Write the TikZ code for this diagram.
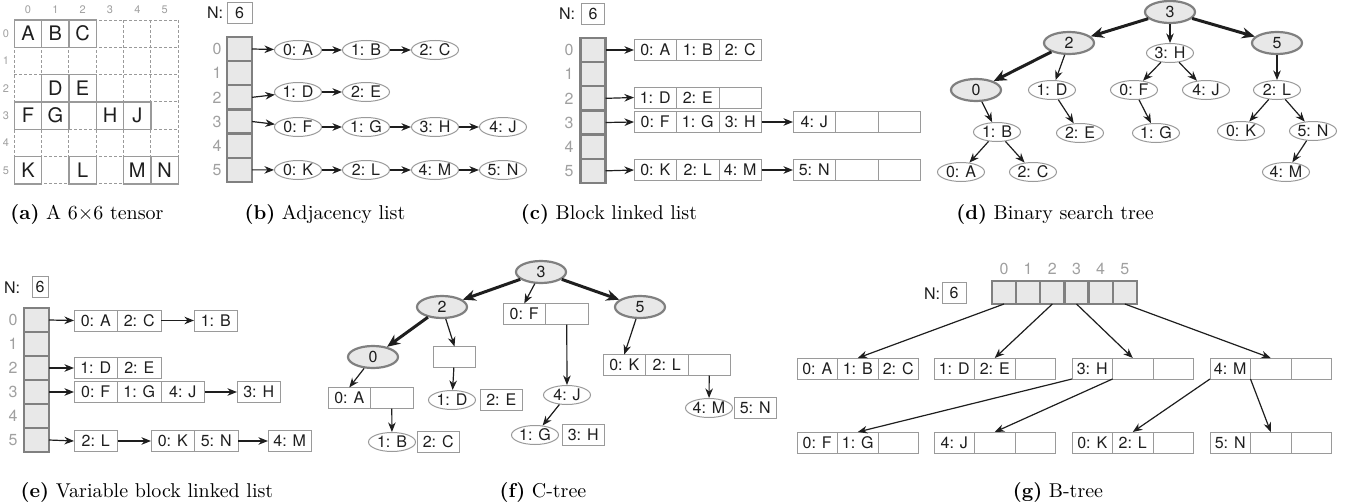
\documentclass[tikz,border=0pt]{standalone}
\usepackage{fontspec}
\newfontfamily\labelfont{TeX Gyre Heros}
\usetikzlibrary{positioning,shapes.geometric,arrows.meta}
\definecolor{boxgray}{HTML}{9A9A9A}
\definecolor{slotfill}{HTML}{E8E8E8}
\definecolor{slotedge}{HTML}{808080}
\definecolor{idxgray}{HTML}{A0A0A0}
\definecolor{ink}{HTML}{1E1E1E}
\tikzset{
  lbl/.style={font=\labelfont\fontsize{8}{9.5}\selectfont, text=ink},
  idx/.style={font=\labelfont\fontsize{8}{9.5}\selectfont, text=idxgray},
  tidx/.style={font=\labelfont\fontsize{5.5}{7}\selectfont, text=idxgray},
  tcell/.style={draw=boxgray, line width=0.6pt, minimum size=13.67pt, inner sep=0pt,
    font=\labelfont\fontsize{10}{12}\selectfont, text=ink},
  cellbox/.style={lbl, draw=boxgray, line width=0.5pt, rectangle, minimum width=#1,
    minimum height=10.5pt, inner sep=0pt, outer sep=0pt},
  cellbox/.default=21.25pt,
  kv/.style={lbl, ellipse, draw=boxgray, line width=0.5pt, minimum width=23.5pt,
    minimum height=9.5pt, inner sep=0pt},
  inode/.style={lbl, ellipse, draw=slotedge, fill=slotfill, line width=1.1pt,
    minimum width=25pt, minimum height=11pt, inner sep=0pt},
  slot/.style={draw=slotedge, fill=slotfill, line width=1.1pt, minimum width=12.5pt,
    minimum height=12.08pt, inner sep=0pt, outer sep=0pt},
  ptr/.style={ink, line width=0.6pt, -{Stealth[length=4.8pt,width=3.8pt]}},
  bigptr/.style={ink, line width=1.5pt, -{Stealth[length=6.5pt,width=5.5pt]}},
  capt/.style={font=\fontsize{10}{12}\selectfont, anchor=base, inner sep=0pt},
}

\begin{document}
\begin{tikzpicture}[x=0.5pt,y=-0.5pt]
\useasboundingbox (0,0) rectangle (1356,503);

% (a) tensor
\foreach \k in {0,...,6} {
  \draw[boxgray, line width=0.5pt, dash pattern=on 1.5pt off 1pt] ({14.3+27.33*\k},20) -- ++(0,164);
  \draw[boxgray, line width=0.5pt, dash pattern=on 1.5pt off 1pt] (14.3,{20+27.33*\k}) -- ++(164,0);
}
\foreach \k in {0,...,5} {
  \node[tidx] (tc\k) at ({28+27.33*\k},9.5) {\k};
  \node[tidx] (tr\k) at (6,{33.7+27.33*\k}) {\k};
}
\foreach \r/\c/\v in {0/0/A,0/1/B,0/2/C,2/1/D,2/2/E,3/0/F,3/1/G,3/3/H,3/4/J,5/0/K,5/2/L,5/4/M,5/5/N}
  \node[tcell] (t\r\c) at ({28+27.33*\c},{33.7+27.33*\r}) {\v};
\node[capt] (capa) at (87,219) {\textbf{(a)} A 6$\times$6 tensor};

% (b) adjacency list
\node[lbl] (bnl) at (215,13) {N:};
\node[cellbox=12.5pt] (bnv) at (239.5,13) {6};
\foreach \i in {0,...,5} {
  \node[slot] (bs\i) at (239.5,{49+24.17*\i}) {};
  \node[idx] (bi\i) at (217,{49+24.17*\i}) {\i};
}
\node[kv] (b0a) at (298,50) {0: A};
\node[kv] (b0b) at (366,50) {1: B};
\node[kv] (b0c) at (435,50) {2: C};
\node[kv] (b2a) at (298,92) {1: D};
\node[kv] (b2b) at (366,92) {2: E};
\node[kv] (b3a) at (298,127) {0: F};
\node[kv] (b3b) at (366,127) {1: G};
\node[kv] (b3c) at (435,127) {3: H};
\node[kv] (b3d) at (503,127) {4: J};
\node[kv] (b5a) at (298,170) {0: K};
\node[kv] (b5b) at (366,170) {2: L};
\node[kv] (b5c) at (435,170) {4: M};
\node[kv] (b5d) at (503,170) {5: N};
\draw[ptr] (bs0.east) -- (b0a);
\draw[ptr] (bs2.east) -- (b2a);
\draw[ptr] (bs3.east) -- (b3a);
\draw[ptr] (bs5.east) -- (b5a);
\draw[ptr] (b0a) -- (b0b);
\draw[ptr] (b0b) -- (b0c);
\draw[ptr] (b2a) -- (b2b);
\draw[ptr] (b3a) -- (b3b);
\draw[ptr] (b3b) -- (b3c);
\draw[ptr] (b3c) -- (b3d);
\draw[ptr] (b5a) -- (b5b);
\draw[ptr] (b5b) -- (b5c);
\draw[ptr] (b5c) -- (b5d);
\node[capt] (capb) at (325,219) {\textbf{(b)} Adjacency list};

% (c) block linked list
\node[lbl] (cnl) at (567,14) {N:};
\node[cellbox=11.5pt] (cnv) at (593,14) {6};
\foreach \i in {0,...,5} {
  \node[slot] (cs\i) at (593,{50+24.17*\i}) {};
  \node[idx] (ci\i) at (569,{50+24.17*\i}) {\i};
}
\node[cellbox, anchor=west] (c0a) at (634,50) {0: A};
\node[cellbox, right=0pt of c0a] (c0b) {1: B};
\node[cellbox, right=0pt of c0b] (c0c) {2: C};
\node[cellbox, anchor=west] (c2a) at (634,97.5) {1: D};
\node[cellbox, right=0pt of c2a] (c2b) {2: E};
\node[cellbox, right=0pt of c2b] (c2c) {};
\node[cellbox, anchor=west] (c3a) at (634,122) {0: F};
\node[cellbox, right=0pt of c3a] (c3b) {1: G};
\node[cellbox, right=0pt of c3b] (c3c) {3: H};
\node[cellbox, anchor=west] (c3d) at (793,122) {4: J};
\node[cellbox, right=0pt of c3d] (c3e) {};
\node[cellbox, right=0pt of c3e] (c3f) {};
\node[cellbox, anchor=west] (c5a) at (634,170) {0: K};
\node[cellbox, right=0pt of c5a] (c5b) {2: L};
\node[cellbox, right=0pt of c5b] (c5c) {4: M};
\node[cellbox, anchor=west] (c5d) at (793,170) {5: N};
\node[cellbox, right=0pt of c5d] (c5e) {};
\node[cellbox, right=0pt of c5e] (c5f) {};
\draw[ptr] (cs0.east) -- (c0a.west);
\draw[ptr] (cs2.east) -- (c2a.west);
\draw[ptr] (cs3.east) -- (c3a.west);
\draw[ptr] (cs5.east) -- (c5a.west);
\draw[ptr] (c3c.east) -- (c3d.west);
\draw[ptr] (c5c.east) -- (c5d.west);
\node[capt] (capc) at (609,219) {\textbf{(c)} Block linked list};

% (d) binary search tree
\node[inode] (d3) at (1170,12) {3};
\node[inode] (d2) at (1069,43) {2};
\node[inode] (d5) at (1277,43) {5};
\node[kv] (dH) at (1170,53) {3: H};
\node[inode] (d0) at (976,90) {0};
\node[kv] (dD) at (1052,90) {1: D};
\node[kv] (dF) at (1134,90) {0: F};
\node[kv] (dJ) at (1206,90) {4: J};
\node[kv] (dL) at (1277,90) {2: L};
\node[kv] (dB) at (997,132) {1: B};
\node[kv] (dE) at (1080,133) {2: E};
\node[kv] (dG) at (1156,133) {1: G};
\node[kv] (dK) at (1241,131) {0: K};
\node[kv] (dN) at (1313,131) {5: N};
\node[kv] (dA) at (961,172) {0: A};
\node[kv] (dC) at (1033,172) {2: C};
\node[kv] (dM) at (1286,172) {4: M};
\draw[bigptr] (d3) -- (d2);
\draw[bigptr] (d3) -- (d5);
\draw[bigptr] (d2) -- (d0);
\draw[ptr] (d3) -- (dH);
\draw[ptr] (d2) -- (dD);
\draw[ptr] (d5) -- (dL);
\draw[ptr] (d0) -- (dB);
\draw[ptr] (dB) -- (dA);
\draw[ptr] (dB) -- (dC);
\draw[ptr] (dD) -- (dE);
\draw[ptr] (dH) -- (dF);
\draw[ptr] (dH) -- (dJ);
\draw[ptr] (dF) -- (dG);
\draw[ptr] (dL) -- (dK);
\draw[ptr] (dL) -- (dN);
\draw[ptr] (dN) -- (dM);
\node[capt] (capd) at (1055,219) {\textbf{(d)} Binary search tree};

% (e) variable block linked list
\node[lbl] (enl) at (12,288) {N:};
\node[cellbox=8pt] (env) at (40,287) {6};
\foreach \i in {0,...,5} {
  \node[slot] (es\i) at (36.5,{320+24*\i}) {};
  \node[idx] (ei\i) at (13,{320+24*\i}) {\i};
}
\node[cellbox=21.75pt, anchor=west] (e0a) at (74,320.5) {0: A};
\node[cellbox=21.75pt, right=0pt of e0a] (e0b) {2: C};
\node[cellbox=21.75pt, anchor=west] (e0c) at (194,320.5) {1: B};
\node[cellbox=21.75pt, anchor=west] (e2a) at (74,368) {1: D};
\node[cellbox=21.75pt, right=0pt of e2a] (e2b) {2: E};
\node[cellbox=21.75pt, anchor=west] (e3a) at (74,392) {0: F};
\node[cellbox=21.75pt, right=0pt of e3a] (e3b) {1: G};
\node[cellbox=21.75pt, right=0pt of e3b] (e3c) {4: J};
\node[cellbox=21.75pt, anchor=west] (e3d) at (237,392) {3: H};
\node[cellbox=21.75pt, anchor=west] (e5a) at (74,441) {2: L};
\node[cellbox=21.75pt, anchor=west] (e5b) at (151,441) {0: K};
\node[cellbox=21.75pt, right=0pt of e5b] (e5c) {5: N};
\node[cellbox=21.75pt, anchor=west] (e5d) at (268,441) {4: M};
\draw[ptr] (es0.east) -- (e0a.west);
\draw[ptr] (es2.east) -- (e2a.west);
\draw[ptr] (es3.east) -- (e3a.west);
\draw[ptr] (es5.east) -- (e5a.west);
\draw[ptr] (e0b.east) -- (e0c.west);
\draw[ptr] (e3c.east) -- (e3d.west);
\draw[ptr] (e5a.east) -- (e5b.west);
\draw[ptr] (e5c.east) -- (e5d.west);
\node[capt] (cape) at (147,497) {\textbf{(e)} Variable block linked list};

% (f) C-tree
\node[inode] (f3) at (541,272) {3};
\node[inode] (f2) at (442,307) {2};
\node[inode] (f5) at (640,307) {5};
\node[inode] (f0) at (373,357) {0};
\node[cellbox, anchor=west] (fFa) at (503,314) {0: F};
\node[cellbox, right=0pt of fFa] (fFb) {};
\node[cellbox] (fX) at (454.5,357) {};
\node[cellbox, anchor=west] (fAa) at (328,398) {0: A};
\node[cellbox, right=0pt of fAa] (fAb) {};
\node[kv] (fD) at (452,400) {1: D};
\node[cellbox, anchor=west] (fE) at (480,400) {2: E};
\node[kv] (fB) at (392,442) {1: B};
\node[cellbox, anchor=west] (fC) at (417,442) {2: C};
\node[kv] (fJ) at (567,395) {4: J};
\node[kv] (fG) at (535,435) {1: G};
\node[cellbox, anchor=west] (fH) at (562,435) {3: H};
\node[cellbox, anchor=west] (fKa) at (603,365) {0: K};
\node[cellbox, right=0pt of fKa] (fKb) {2: L};
\node[cellbox, right=0pt of fKb] (fKc) {};
\node[kv] (fM) at (709,408) {4: M};
\node[cellbox, anchor=west] (fN) at (734,408) {5: N};
\draw[bigptr] (f3) -- (f2);
\draw[bigptr] (f3) -- (f5);
\draw[bigptr] (f2) -- (f0);
\draw[ptr] (f3) -- (fFa.north);
\draw[ptr] (f2) -- (fX.north);
\draw[ptr] (f0) -- (fAa.north);
\draw[ptr] (f5) -- (fKa.north);
\draw[ptr] (fX) -- (fD);
\draw[ptr] (fAb) -- (fB);
\draw[ptr] (fFb) -- (fJ);
\draw[ptr] (fJ) -- (fG);
\draw[ptr] (fKc) -- (fM);
\node[capt] (capf) at (543,497) {\textbf{(f)} C-tree};

% (g) B-tree
\node[lbl] (gnl) at (932,294) {N:};
\node[cellbox=12pt] (gnv) at (954,293) {6};
\foreach \i in {0,...,5} {
  \node[slot, minimum width=12.08pt, minimum height=11.5pt] (gs\i) at ({1004+24.17*\i},292.5) {};
  \node[idx] (gi\i) at ({1004+24.17*\i},269) {\i};
}
\foreach \x/\n/\p/\q/\r in {797/1/0: A/1: B/2: C, 934/2/1: D/2: E/, 1072/3/3: H//, 1210/4/4: M//} {
  \node[cellbox=20.25pt, anchor=west] (g\n a) at (\x,368.5) {\p};
  \node[cellbox=20.25pt, right=0pt of g\n a] (g\n b) {\q};
  \node[cellbox=20.25pt, right=0pt of g\n b] (g\n c) {\r};
}
\foreach \x/\n/\p/\q in {797/5/0: F/1: G, 934/6/4: J/, 1072/7/0: K/2: L, 1210/8/5: N/} {
  \node[cellbox=20.25pt, anchor=west] (g\n a) at (\x,442.5) {\p};
  \node[cellbox=20.25pt, right=0pt of g\n a] (g\n b) {\q};
  \node[cellbox=20.25pt, right=0pt of g\n b] (g\n c) {};
}
\draw[ptr] (gs0.south) -- (g1b.north);
\draw[ptr] (gs2.south) -- (g2b.north);
\draw[ptr] (gs3.south) -- (g3b.north);
\draw[ptr] (gs5.south) -- (g4b.north);
\draw[ptr] (g3a.south west) -- (g5b.north);
\draw[ptr] (g3a.south east) -- (g6b.north);
\draw[ptr] (g4a.south west) -- (g7b.north);
\draw[ptr] (g4a.south east) -- (g8b.north);
\node[capt] (capg) at (1058,497) {\textbf{(g)} B-tree};
\end{tikzpicture}
\end{document}
